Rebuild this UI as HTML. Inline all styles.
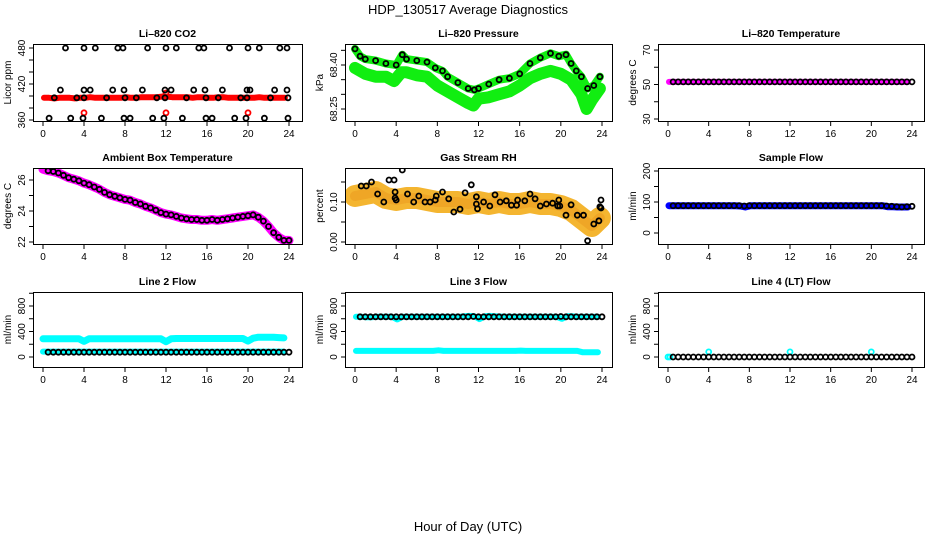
<!DOCTYPE html>
<html><head><meta charset="utf-8"><style>
html,body{margin:0;padding:0;background:#fff;}
svg{display:block;font-family:"Liberation Sans",sans-serif;}
</style></head><body>
<svg id="chart" width="936" height="540" viewBox="0 0 936 540" xmlns="http://www.w3.org/2000/svg">
<text x="468" y="14" text-anchor="middle" font-size="13">HDP_130517  Average Diagnostics</text>
<text x="468" y="531" text-anchor="middle" font-size="13">Hour of Day (UTC)</text>
</svg>
<script>
// ---- data (half-hourly index i -> hour i*0.5) ----
const xTicks = [0,4,8,12,16,20,24];
const co2Red = [397,397,396,397,397,397,396,397,397,398,397,397,397,397,397,397,398,397,397,398,398,398,398,399,399,398,398,398,398,397,398,398,397,397,398,398,397,397,397,397,397,397,398,397,397,397,397,397,397];
const co2RedOutHours = [4,12,20,12];
const co2RedOutVals = [372,372,372,405];
const co2BlackHours = [2.2,4,5.1,7.3,7.8,10.2,12,13,15.2,15.7,18.2,20,21.1,23.1,23.8, 1.7,4,4.6,6.8,7.9,9.7,11.9,12.5,14.7,15.8,17.5,19.9,20.2,22.6,23.8, 1.1,3.3,4,6.2,8,9.1,11.1,11.9,14,15.9,17.1,19.3,19.9,22.2,23.9, 0.6,2.7,3.9,5.7,7.9,8.5,10.7,11.8,13.6,15.9,16.5,18.7,19.8,21.6,23.9];
const co2BlackVals = [480,480,480,480,480,480,480,480,480,480,480,480,480,480,480, 410,410,410,410,410,410,410,410,410,410,410,410,410,410,410, 397,397,397,397,397,397,397,397,397,397,397,397,397,397,397, 363,363,363,363,363,363,363,363,363,363,363,363,363,363,363];
const presUpHours = [0,0.5,1,2,3,4,4.6,5,6,7,7.8,8.5,9,10,11,11.6,12,13,14,15,16,17,18,19,19.8,20.5,21,21.5,22,22.6,23.2,23.8];
const presUpVals = [68.455,68.43,68.42,68.415,68.405,68.4,68.435,68.42,68.415,68.41,68.39,68.38,68.36,68.34,68.32,68.315,68.32,68.335,68.35,68.355,68.37,68.405,68.425,68.44,68.43,68.435,68.405,68.38,68.36,68.32,68.33,68.36];
const presLoHours = [0,1,2,3,3.8,4.5,5,6,7,8,9,10,11,11.5,12,13,14,15,16,17,18,19,20,21,22,22.5,23,23.8];
const presLoVals = [68.39,68.37,68.36,68.36,68.345,68.375,68.375,68.365,68.36,68.33,68.31,68.29,68.27,68.262,68.285,68.29,68.3,68.31,68.33,68.355,68.37,68.38,68.37,68.35,68.3,68.25,68.28,68.32];
const tempMag = [51.5,51.5,51.5,51.5,51.5,51.5,51.5,51.5,51.5,51.5,51.5,51.5,51.5,51.5,51.5,51.5,51.5,51.5,51.5,51.5,51.5,51.5,51.5,51.5,51.5,51.5,51.5,51.5,51.5,51.5,51.5,51.5,51.5,51.5,51.5,51.5,51.5,51.5,51.5,51.5,51.5,51.5,51.5,51.5,51.5,51.5,51.5,51.5,51.5];
const tempBlack = tempMag.slice();
const ambient = [26.7,26.6,26.55,26.45,26.3,26.15,26.05,25.95,25.8,25.7,25.55,25.4,25.2,25.05,24.95,24.85,24.75,24.7,24.55,24.45,24.3,24.2,24.05,23.9,23.8,23.75,23.65,23.55,23.5,23.45,23.45,23.4,23.4,23.45,23.4,23.45,23.5,23.55,23.6,23.65,23.7,23.75,23.6,23.35,23.0,22.6,22.3,22.1,22.1];
const rhBandHours = [0,1,2,3,4,5,6,7,8,9,10,11,12,13,14,15,16,17,18,19,20,21,22,23,23.8];
const rhBand = [0.115,0.12,0.125,0.11,0.105,0.11,0.11,0.105,0.1,0.1,0.1,0.095,0.1,0.095,0.1,0.095,0.095,0.1,0.095,0.095,0.09,0.08,0.06,0.04,0.06];
const rhBlackHours = [0.6,1.1,1.6,2.2,2.8,3.3,3.8,3.9,3.9,4,4.6,5.1,5.7,6.2,6.8,7.3,7.8,7.9,8.5,9.1,9.6,10.2,10.7,11.3,11.8,11.8,11.9,12.5,13.1,13.6,14.1,14.7,15.2,15.7,15.8,16.5,17,17.5,18,18.6,19.2,19.7,19.8,19.9,21,20.5,21.6,22.2,22.6,23.2,23.7,23.8,23.9,23.9];
const rhBlackVals = [0.14,0.14,0.15,0.12,0.1,0.155,0.155,0.125,0.11,0.105,0.18,0.12,0.1,0.115,0.1,0.1,0.105,0.115,0.125,0.108,0.075,0.082,0.123,0.143,0.113,0.095,0.083,0.1,0.09,0.118,0.1,0.103,0.092,0.092,0.105,0.103,0.12,0.108,0.09,0.095,0.097,0.09,0.105,0.09,0.093,0.067,0.067,0.067,0.003,0.045,0.053,0.088,0.105,0.085];
const sampleBlue = [88,88,88,88,88,88,88,88,88,88,88,88,88,88,87,84,88,88,88,88,88,88,88,88,88,88,88,88,88,88,88,88,88,88,88,88,88,88,88,88,88,88,88,85,85,84,84,84,85];
const sampleBlack = [88,88,88,88,88,88,88,88,88,88,88,88,88,88,88,87,88,88,88,88,88,88,88,88,88,88,88,88,88,88,88,88,88,88,88,88,88,88,88,88,88,88,88,87,86,85,84,85,86];
const line2CyanHi = [285,285,285,285,285,285,285,285,245,285,285,285,285,285,285,285,285,285,285,285,285,285,285,285,240,285,290,290,290,290,290,290,290,290,290,290,290,290,290,290,250,295,310,310,310,310,305,300,295];
const line2CyanLo = [85,85,85,85,85,85,85,85,85,85,85,85,85,85,85,85,85,85,85,85,85,85,85,85,85,85,85,85,85,85,85,85,85,85,85,85,85,85,85,85,85,85,85,85,85,85,85,85,85];
const line2Black = [75,75,75,75,75,75,75,75,75,75,75,75,75,75,75,75,75,75,75,75,75,75,75,75,75,75,75,75,75,75,75,75,75,75,75,75,75,75,75,75,75,75,75,75,75,75,75,75,75];
const line3CyanHi = [630,630,625,625,630,630,630,630,590,630,630,630,630,630,630,630,630,630,630,630,630,640,645,640,595,640,645,640,635,630,630,630,630,630,630,630,630,630,630,630,600,640,640,630,630,630,630,630,630];
const line3Black = [630,630,630,630,630,630,630,630,630,630,630,630,630,630,630,630,630,630,630,630,630,630,630,635,630,630,630,630,630,630,630,630,630,630,630,630,630,630,630,630,635,630,630,630,630,630,630,630,630];
const line3CyanLo = [95,95,95,95,95,95,95,95,95,95,95,95,95,95,95,95,105,95,95,95,95,95,95,95,95,95,95,95,95,95,95,95,100,95,95,95,95,95,95,95,95,95,95,95,75,75,75,75,80];
const line4Black = [0,0,0,0,0,0,0,0,0,0,0,0,0,0,0,0,0,0,0,0,0,0,0,0,0,0,0,0,0,0,0,0,0,0,0,0,0,0,0,0,0,0,0,0,0,0,0,0,0];
const line4CyanHours = [0,0.2,4,12,20];
const line4CyanVals = [0,0,80,80,80];

// ---- layout ----
const svg = document.getElementById('chart');
const NS = 'http://www.w3.org/2000/svg';
const cols = [{l:33,r:302,x0:43,x1:289},{l:345,r:612,x0:355,x1:602},{l:658,r:924,x0:668,x1:912}];
const rows = [{t:44,b:121},{t:168,b:244},{t:292,b:367}];
const half = ambient.map((v,i)=>i*0.5);

function el(tag, attrs, parent){
  const e = document.createElementNS(NS, tag);
  for (const k in attrs) e.setAttribute(k, attrs[k]);
  (parent||svg).appendChild(e);
  return e;
}

const panels = [
 {c:0,r:0,name:'co2',title:'Li\u2013820 CO2',ylab:'Licor ppm',ym:[360,120,480,48],ticks:[360,380,400,420,440,460,480],labels:[360,420,480],fmt:v=>v,
  series:[
   {h:half.slice(0,48).map(x=>x+0.1),v:co2Red.slice(0,48),color:'#ff0000',type:'band',w:6},
   {h:co2RedOutHours,v:co2RedOutVals,color:'#ff0000',type:'circle'},
   {h:co2BlackHours,v:co2BlackVals,color:'#000',type:'circle'}]},
 {c:1,r:0,name:'pressure',title:'Li\u2013820 Pressure',ylab:'kPa',ym:[68.25,109,68.40,65],ticks:[68.25,68.30,68.35,68.40,68.45],labels:[68.25,68.40],fmt:v=>v.toFixed(2),
  series:[
   {h:presLoHours,v:presLoVals,color:'#11ee11',type:'band',w:12},
   {h:presUpHours,v:presUpVals,color:'#11ee11',type:'band',w:8},
   {h:presUpHours,v:presUpVals,color:'#000',type:'circle'}]},
 {c:2,r:0,name:'li820-temperature',title:'Li\u2013820 Temperature',ylab:'degrees C',ym:[30,119,70,50],ticks:[30,40,50,60,70],labels:[30,50,70],fmt:v=>v,
  series:[
   {h:half.slice(0,48).map(x=>x+0.1),v:tempMag.slice(0,48),color:'#ff00ff',type:'band',w:6},
   {h:half.slice(1),v:tempBlack.slice(1),color:'#000',type:'circle'}]},
 {c:0,r:1,name:'ambient',title:'Ambient Box Temperature',ylab:'degrees C',ym:[22,242,26,180],ticks:[22,23,24,25,26],labels:[22,24,26],fmt:v=>v,
  series:[
   {h:half,v:ambient,color:'#ff00ff',type:'band',w:9},
   {h:half.slice(1),v:ambient.slice(1),color:'#000',type:'circle'}]},
 {c:1,r:1,name:'rh',title:'Gas Stream RH',ylab:'percent',ym:[0,242,0.10,202],ticks:[0,0.05,0.10,0.15],labels:[0,0.10],fmt:v=>v.toFixed(2),
  series:[
   {h:rhBandHours,v:rhBand,color:'#f4b530',type:'band',w:22},
   {h:rhBandHours,v:rhBand,color:'#e8901a',type:'band',w:10,op:0.4},
   {h:rhBlackHours,v:rhBlackVals,color:'#000',type:'circle'}]},
 {c:2,r:1,name:'sample-flow',title:'Sample Flow',ylab:'ml/min',ym:[0,233,200,171],ticks:[0,50,100,150,200],labels:[0,100,200],fmt:v=>v,
  series:[
   {h:half.slice(0,48).map(x=>x+0.1),v:sampleBlue.slice(0,48),color:'#0000ff',type:'band',w:7},
   {h:half.slice(1),v:sampleBlack.slice(1),color:'#000',type:'circle'}]},
 {c:0,r:2,name:'line2',title:'Line 2 Flow',ylab:'ml/min',ym:[0,357,800,306],ticks:[0,200,400,600,800,1000],labels:[0,400,800],fmt:v=>v,
  series:[
   {h:half.slice(0,48),v:line2CyanHi.slice(0,48),color:'#00ffff',type:'band',w:7},
   {h:half.slice(0,48),v:line2CyanLo.slice(0,48),color:'#00ffff',type:'band',w:6},
   {h:half.slice(1),v:line2Black.slice(1),color:'#000',type:'circle'}]},
 {c:1,r:2,name:'line3',title:'Line 3 Flow',ylab:'ml/min',ym:[0,357,800,306],ticks:[0,200,400,600,800,1000],labels:[0,400,800],fmt:v=>v,
  series:[
   {h:half.slice(0,48).map(x=>x+0.1),v:line3CyanHi.slice(0,48),color:'#00ffff',type:'band',w:6},
   {h:half.slice(0,48).map(x=>x+0.1),v:line3CyanLo.slice(0,48),color:'#00ffff',type:'band',w:6},
   {h:half.slice(1),v:line3Black.slice(1),color:'#000',type:'circle'}]},
 {c:2,r:2,name:'line4',title:'Line 4 (LT) Flow',ylab:'ml/min',ym:[0,357,800,306],ticks:[0,200,400,600,800,1000],labels:[0,400,800],fmt:v=>v,
  series:[
   {h:line4CyanHours,v:line4CyanVals,color:'#00ffff',type:'circle'},
   {h:half.slice(1),v:line4Black.slice(1),color:'#000',type:'circle'}]}
];

panels.forEach(p=>{
  const C = cols[p.c], R = rows[p.r];
  const g = el('g', {});
  
  
  const xs = h => C.x0 + (C.x1 - C.x0) * h / 24;
  const ys = v => p.ym[1] + (p.ym[3] - p.ym[1]) * (v - p.ym[0]) / (p.ym[2] - p.ym[0]);
  const cp = 'clip-' + p.name;
  const cdef = el('clipPath', {id: cp}, g);
  el('rect', {x: C.l, y: R.t, width: C.r - C.l, height: R.b - R.t}, cdef);
  const data = el('g', {'clip-path': 'url(#' + cp + ')'}, g);
  p.series.forEach((s, si)=>{
    if (s.type === 'band') {
      const pts = s.h.map((h,i)=>xs(h).toFixed(1)+','+ys(s.v[i]).toFixed(1)).join(' ');
      const pl = el('polyline', {points: pts, fill:'none', stroke:s.color, 'stroke-width':s.w, 'stroke-linecap':'round', 'stroke-linejoin':'round', opacity: s.op||1}, data);
      
      
    } else {
      s.h.forEach((h,i)=>{
        const c = el('circle', {cx: xs(h).toFixed(1), cy: ys(s.v[i]).toFixed(1), r: 2.5, fill:'none', stroke:s.color, 'stroke-width':1.8}, data);
        
        
      });
    }
  });
  const box = el('rect', {x: C.l+0.5, y: R.t+0.5, width: C.r - C.l, height: R.b - R.t, fill:'none', stroke:'#000', 'stroke-width':1}, g);
  
  
  xTicks.forEach(t=>{
    const x = xs(t);
    el('line', {x1:x, x2:x, y1:R.b+1, y2:R.b+5, stroke:'#000'}, g);
    const tx = el('text', {x:x, y:R.b+16, 'text-anchor':'middle', 'font-size':10}, g);
    
    
    tx.textContent = t;
  });
  p.ticks.forEach(t=>{
    const y = ys(t);
    el('line', {x1:C.l-4, x2:C.l, y1:y, y2:y, stroke:'#000'}, g);
  });
  p.labels.forEach(t=>{
    const y = ys(t);
    const tx = el('text', {x:C.l-8, y:y, 'text-anchor':'middle', 'font-size':10, transform:'rotate(-90 '+(C.l-8)+' '+y+')'}, g);
    
    
    tx.textContent = p.fmt(t);
  });
  const my = (R.t + R.b) / 2, lx = C.l - 22;
  const yl = el('text', {x:lx, y:my, 'text-anchor':'middle', 'font-size':10, transform:'rotate(-90 '+lx+' '+my+')'}, g);
  
  
  yl.textContent = p.ylab;
  const tt = el('text', {x:(C.l + C.r)/2, y:R.t - 7, 'text-anchor':'middle', 'font-size':10.5, 'font-weight':'bold'}, g);
  
  
  tt.textContent = p.title;
});
</script>
</body></html>
